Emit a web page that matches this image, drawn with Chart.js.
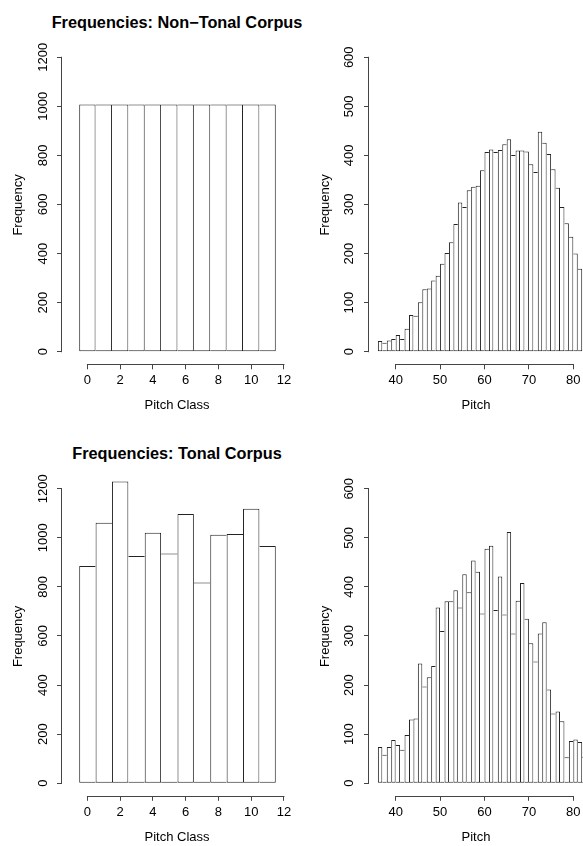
<!DOCTYPE html>
<html>
<head>
<meta charset="utf-8">
<script src="https://cdn.jsdelivr.net/npm/chart.js@4.4.0/dist/chart.umd.min.js"></script>
<style>
  html, body { margin: 0; padding: 0; background: #fff; overflow: hidden; }
  #page { position: relative; width: 583px; height: 846px; overflow: hidden; }
  canvas { position: absolute; }
  .main-title {
    position: absolute; left: 0; width: 354px; text-align: center;
    font: bold 16.3px 'Liberation Sans', Arial, sans-serif; line-height: 20px; color: #000;
  }
</style>
</head>
<body>
<div id="page">
  <div class="main-title" style="top:12px">Frequencies: Non−Tonal Corpus</div>
  <canvas id="pc-nontonal" width="300" height="432" style="left:0;top:0"></canvas>
  <canvas id="pitch-nontonal" width="300" height="432" style="left:291px;top:0"></canvas>
  <div class="main-title" style="top:443px">Frequencies: Tonal Corpus</div>
  <canvas id="pc-tonal" width="300" height="432" style="left:0;top:431px"></canvas>
  <canvas id="pitch-tonal" width="300" height="432" style="left:291px;top:431px"></canvas>
</div>
<script>
// ── Données ────────────────────────────────────────────────────────
const pitchClasses = [0, 1, 2, 3, 4, 5, 6, 7, 8, 9, 10, 11];
const nonTonalPC = [1008, 1008, 1008, 1008, 1008, 1008, 1008, 1008, 1008, 1008, 1008, 1008];
const tonalPC = [885, 1062, 1230, 926, 1021, 936, 1097, 818, 1013, 1016, 1119, 967];

// left edge of each pitch bin
const pitches = [36, 37, 38, 39, 40, 41, 42, 43, 44, 45, 46, 47, 48, 49, 50, 51, 52, 53, 54, 55,
  56, 57, 58, 59, 60, 61, 62, 63, 64, 65, 66, 67, 68, 69, 70, 71, 72, 73, 74, 75,
  76, 77, 78, 79, 80, 81, 82];
const nonTonalPitch = [22, 18, 23, 26, 34, 26, 47, 75, 73, 101, 127, 129, 145, 155, 179, 201, 223, 260, 304, 295,
  329, 336, 338, 370, 407, 412, 407, 411, 423, 433, 401, 410, 410, 408, 382, 366, 448, 426, 403, 372,
  334, 295, 262, 234, 200, 169];
const tonalPitch = [74, 58, 74, 88, 78, 68, 98, 130, 132, 244, 197, 216, 239, 358, 310, 371, 371, 393, 358, 426,
  389, 454, 431, 346, 478, 484, 353, 421, 344, 512, 305, 372, 408, 335, 285, 248, 305, 328, 191, 142,
  146, 126, 53, 86, 89, 84, 54];

const pcTicks = [0, 2, 4, 6, 8, 10, 12];
const pitchTicks = [40, 50, 60, 70, 80];
const pcFreqTicks = [0, 200, 400, 600, 800, 1000, 1200];
const pitchFreqTicks = [0, 100, 200, 300, 400, 500, 600];

Chart.defaults.font.family = "'Liberation Sans', Arial, Helvetica, sans-serif";
Chart.defaults.font.size = 13;
Chart.defaults.color = "#000";

const axisColor = "#444";
const barColor = "#222";

// axes façon R : segment du premier au dernier tick
const rAxes = {
  id: "rAxes",
  afterDraw(chart) {
    const { ctx, chartArea, scales: { x, y } } = chart;
    ctx.save();
    ctx.strokeStyle = axisColor;
    ctx.lineWidth = 1;
    ctx.beginPath();
    const ax = Math.round(chartArea.left) - 0.5;
    ctx.moveTo(ax, y.getPixelForValue(y.ticks[0].value) + 0.5);
    ctx.lineTo(ax, y.getPixelForValue(y.ticks[y.ticks.length - 1].value) - 0.5);
    const ay = Math.round(chartArea.bottom) + 0.5;
    ctx.moveTo(x.getPixelForValue(x.ticks[0].value) - 0.5, ay);
    ctx.lineTo(x.getPixelForValue(x.ticks[x.ticks.length - 1].value) + 0.5, ay);
    ctx.stroke();
    ctx.restore();
  }
};

function histogram(id, bins, counts, o) {
  const n = counts.length;
  return new Chart(document.getElementById(id), {
    type: "bar",
    data: {
      datasets: [{
        data: counts.map((c, i) => ({ x: bins[i] + o.shift, y: c })),
        backgroundColor: "#fff",
        borderColor: barColor,
        // une seule ligne par frontière : c'est la barre la plus haute qui la trace
        borderWidth: ctx => {
          const i = ctx.dataIndex, h = counts[i];
          return {
            top: 1, bottom: 1,
            left: i === 0 || counts[i - 1] < h ? 1 : 0,
            right: i === n - 1 || counts[i + 1] <= h ? 1 : 0,
          };
        },
        borderSkipped: false,
        inflateAmount: 0,
        barPercentage: 1,
        categoryPercentage: 1,
      }]
    },
    options: {
      responsive: false, animation: false, events: [],
      layout: { padding: { left: 0, right: 8, top: 45.5 + o.dy, bottom: 432 - (364.3 + o.dy) - 58 } },
      plugins: { legend: { display: false }, tooltip: { enabled: false } },
      scales: {
        x: {
          type: "linear", min: o.xMin, max: o.xMax, offset: false,
          afterBuildTicks: s => { s.ticks = o.xTicks.map(v => ({ value: v })); },
          afterFit: s => { s.height = 58; },
          grid: { drawOnChartArea: false, offset: false, tickLength: 5, color: axisColor },
          border: { display: false },
          ticks: { padding: 3.6, autoSkip: false, maxRotation: 0, callback: v => String(v) },
          title: { display: true, text: o.xLabel, padding: { top: 0, bottom: 8.8 } },
        },
        y: {
          type: "linear", min: o.yMin, max: o.yMax,
          afterBuildTicks: s => { s.ticks = o.yTicks.map(v => ({ value: v })); },
          afterFit: s => { s.width = o.yWidth; },
          grid: { drawOnChartArea: false, tickLength: 5, color: axisColor },
          border: { display: false },
          ticks: { minRotation: 90, maxRotation: 90, crossAlign: "center", padding: o.yTickPad, callback: v => String(v) },
          title: { display: true, text: "Frequency", padding: { top: o.yTitlePad, bottom: 0 } },
        }
      }
    },
    plugins: [rAxes]
  });
}

const pcOpts = { shift: 0, xMin: -1.55, xMax: 12.49, xTicks: pcTicks, xLabel: "Pitch Class",
  yMin: -51.4, yMax: 1248, yTicks: pcFreqTicks, yWidth: 62, yTickPad: -0.5, yTitlePad: 10.5 };
const pitchOpts = { shift: 0.5, xMin: 34.0, xMax: 82.18, xTicks: pitchTicks, xLabel: "Pitch",
  yMin: -25.7, yMax: 624, yTicks: pitchFreqTicks, yWidth: 78, yTickPad: 3.3, yTitlePad: 26.5 };

histogram("pc-nontonal", pitchClasses, nonTonalPC, { ...pcOpts, dy: 0 });
histogram("pitch-nontonal", pitches, nonTonalPitch, { ...pitchOpts, dy: 0 });
histogram("pc-tonal", pitchClasses, tonalPC, { ...pcOpts, dy: 0.5 });
histogram("pitch-tonal", pitches, tonalPitch, { ...pitchOpts, dy: 0.5 });
</script>
</body>
</html>
